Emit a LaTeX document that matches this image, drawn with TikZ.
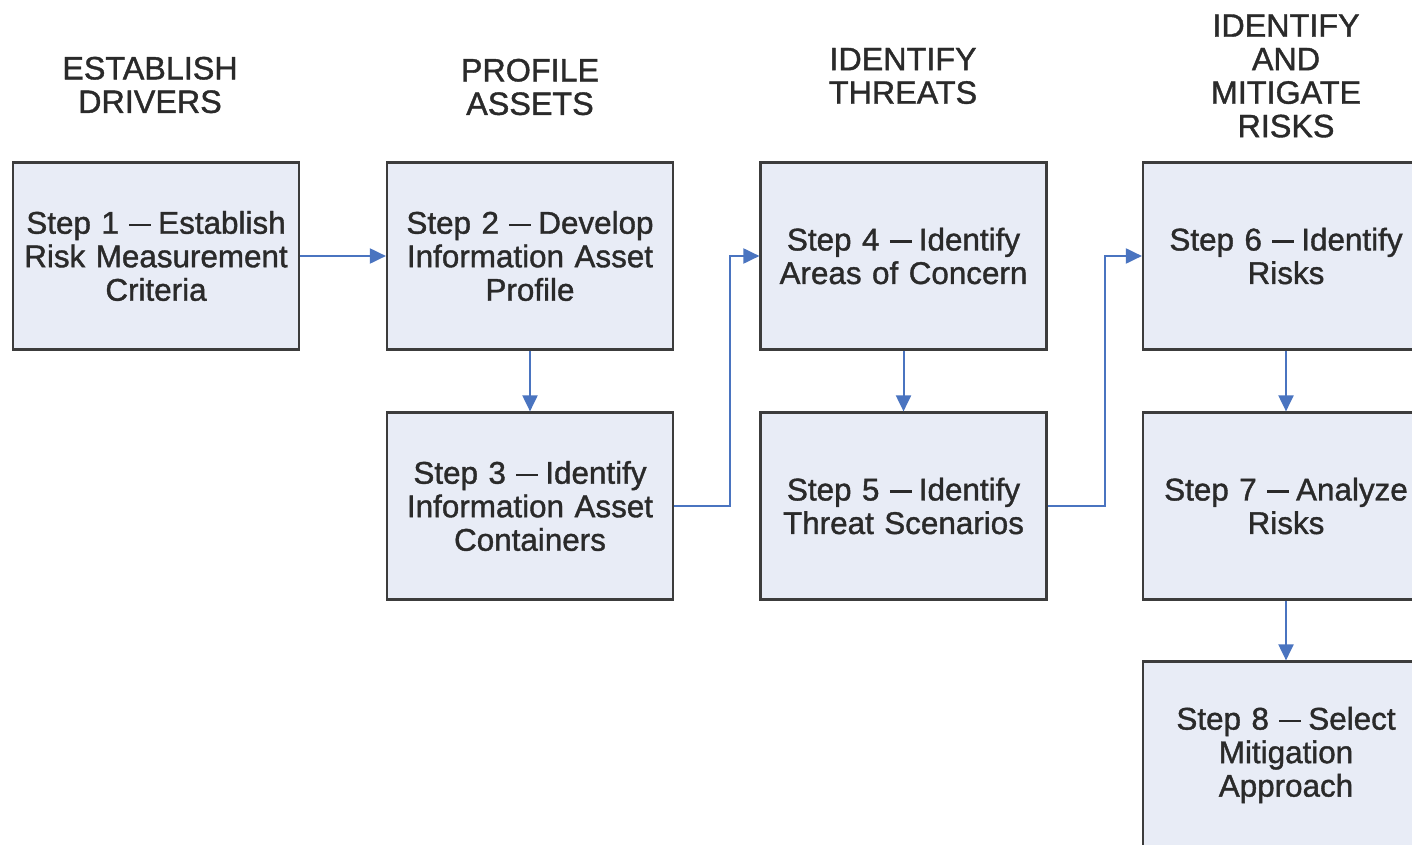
\documentclass[tikz,border=0pt]{standalone}
\usepackage{fontspec}
\setmainfont{Liberation Sans}
\newfontfamily\diagfont{Liberation Sans}[FakeBold=1.2]
\usetikzlibrary{arrows.meta}
\definecolor{boxfill}{HTML}{E8ECF6}
\definecolor{boxline}{HTML}{3C3C3C}
\definecolor{arrowblue}{HTML}{4A74C0}
\definecolor{txt}{HTML}{2A2A2A}
\newcommand{\dsh}{~\rule[0.245em]{0.7em}{0.075em}\hspace{0.22em}}
\tikzset{
  stepbox/.style={draw=boxline, line width=2.2pt, fill=boxfill, minimum width=286pt, minimum height=187pt,
    inner sep=0pt, text width=284pt, align=center, text=txt,
    font=\diagfont\fontsize{31.4pt}{33.5pt}\selectfont},
  phase/.style={align=center, text=txt, inner sep=0pt, font=\diagfont\fontsize{32.3pt}{33.5pt}\selectfont},
  flow/.style={draw=arrowblue, line width=2pt, -{Triangle[length=16pt,width=15pt]}}
}
\begin{document}
\begin{tikzpicture}[x=1pt,y=-1pt]
\useasboundingbox (0,0) rectangle (1412,845);
\clip (0,0) rectangle (1412,845);
\fill[white] (0,0) rectangle (1412,845);
% phase headings
\node[phase] (h1) at (150,85) {ESTABLISH\\DRIVERS};
\node[phase] (h2) at (530,87) {PROFILE\\ASSETS};
\node[phase] (h3) at (903,76) {IDENTIFY\\THREATS};
\node[phase] (h4) at (1286,76) {IDENTIFY\\AND\\MITIGATE\\RISKS};
% steps
\node[stepbox] (s1) at (156,256) {Step 1\dsh Establish\\Risk Measurement\\Criteria};
\node[stepbox] (s2) at (530,256) {Step 2\dsh Develop\\Information Asset\\Profile};
\node[stepbox] (s3) at (530,506) {Step 3\dsh Identify\\Information Asset\\Containers};
\node[stepbox] (s4) at (903.5,256) {Step 4\dsh Identify\\Areas of Concern};
\node[stepbox] (s5) at (903.5,506) {Step 5\dsh Identify\\Threat Scenarios};
\node[stepbox] (s6) at (1286,256) {Step 6\dsh Identify\\Risks};
\node[stepbox] (s7) at (1286,506) {Step 7\dsh Analyze\\Risks};
\node[stepbox] (s8) at (1286,755) {Step 8\dsh Select\\Mitigation\\Approach};
% connectors
\draw[flow] (s1) -- (s2);
\draw[flow] (s2) -- (s3);
\draw[flow] (s3.east) -- ++(56,0) |- (s4.west);
\draw[flow] (s4) -- (s5);
\draw[flow] (s5.east) -- ++(57,0) |- (s6.west);
\draw[flow] (s6) -- (s7);
\draw[flow] (s7) -- (s8);
\end{tikzpicture}
\end{document}
